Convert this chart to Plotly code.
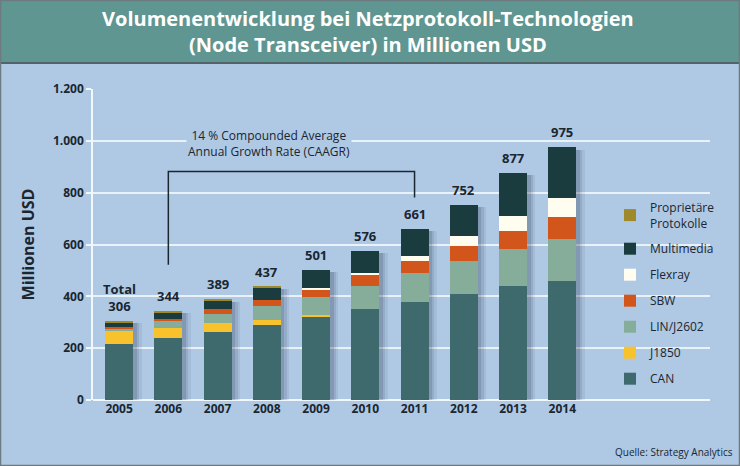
import numpy as np
import plotly.graph_objects as go

years = ["2005", "2006", "2007", "2008", "2009", "2010", "2011", "2012", "2013", "2014"]
totals = [306, 344, 389, 437, 501, 576, 661, 752, 877, 975]

can = [215, 240, 264, 290, 320, 352, 380, 410, 438, 460]
j1850 = [50, 38, 32, 20, 8, 0, 0, 0, 0, 0]
lin = [10, 25, 37, 51, 71, 89, 110, 125, 145, 162]
sbw = [8, 9, 17, 25, 28, 40, 47, 60, 68, 83]
flexray = [0, 0, 0, 0, 4, 9, 20, 36, 58, 75]
multimedia = [17, 27, 35, 49, 70, 86, 104, 121, 168, 195]
proprietaer = [6, 5, 4, 2, 0, 0, 0, 0, 0, 0]

series = [
    ("CAN", can, "#3e6a6e"),
    ("J1850", j1850, "#f7c22c"),
    ("LIN/J2602", lin, "#86ad9a"),
    ("SBW", sbw, "#d2561b"),
    ("Flexray", flexray, "#fffcf0"),
    ("Multimedia", multimedia, "#1b3c3e"),
    ("Proprietäre<br>Protokolle", proprietaer, "#9e8a2a"),
]

y_ticks = [0, 200, 400, 600, 800, 1000, 1200]
y_tick_labels = ["0", "200", "400", "600", "800", "1.000", "1.200"]

W, H = 740, 466
ML, MR, MT, MB = 93, 30, 89, 66
PW, PH = W - ML - MR, H - MT - MB

BG = "#afc9e4"
DARK = "#1a2630"
FONT = "Open Sans"

xpos = np.arange(len(years))
bar_w = 0.57

fig = go.Figure()

# soft drop shadows derived from totals
for dx, alpha in [(0.17, 0.07), (0.12, 0.1), (0.07, 0.14)]:
    fig.add_trace(go.Bar(
        x=xpos, y=np.array(totals) - 5, base=-4,
        width=bar_w, offset=-bar_w / 2 + dx,
        marker=dict(color=f"rgba(20,35,60,{alpha})", line=dict(width=0)),
        showlegend=False, hoverinfo="skip"))

base = np.zeros(len(years))
for i, (name, vals, col) in enumerate(series):
    v = np.array(vals, dtype=float)
    fig.add_trace(go.Bar(
        x=xpos, y=v, base=base.copy(), name=name,
        width=bar_w, marker=dict(color=col, line=dict(width=0)),
        legendgroup=f"g{i}", legendrank=1000 - 10 * i))
    base += v

# total labels
for i, t in enumerate(totals):
    txt = f"Total<br>{t}" if i == 0 else f"{t}"
    fig.add_annotation(x=xpos[i], y=t, text=txt, showarrow=False,
                       yanchor="bottom", yshift=4,
                       font=dict(family=FONT, size=13, color=DARK, weight="bold"))

# CAAGR bracket between 2006 and 2011
i0, i1 = years.index("2006"), years.index("2011")
bracket_top = 882
fig.add_shape(type="path", xref="x", yref="y",
              path=f"M {xpos[i0]},{522} L {xpos[i0]},{bracket_top} L {xpos[i1]},{bracket_top} L {xpos[i1]},{781}",
              line=dict(color=DARK, width=1.5))
fig.add_annotation(x=(xpos[1] + xpos[5]) / 2 + 0.05, y=990, text="14 % Compounded Average<br>Annual Growth Rate (CAAGR)",
                   showarrow=False, bgcolor=BG, yanchor="middle",
                   font=dict(family=FONT, size=12, color=DARK))

# header band
px = lambda p: (p - ML) / PW
py = lambda p: (H - MB - p) / PH
fig.add_shape(type="rect", xref="paper", yref="paper", layer="below",
              x0=px(0), x1=px(W), y0=py(62), y1=py(0),
              fillcolor="#5f9691", line=dict(width=0))
fig.add_shape(type="line", xref="paper", yref="paper",
              x0=px(0), x1=px(W), y0=py(63), y1=py(63),
              line=dict(color="#52636a", width=2))
fig.add_shape(type="rect", xref="paper", yref="paper",
              x0=px(0.5), x1=px(W - 0.5), y0=py(H - 0.5), y1=py(0.5),
              line=dict(color="#6b7b80", width=1.5))

fig.add_annotation(xref="paper", yref="paper", x=px(W / 2 - 2), y=py(31),
                   text="Volumenentwicklung bei Netzprotokoll-Technologien<br>(Node Transceiver) in Millionen USD",
                   showarrow=False, yanchor="middle",
                   font=dict(family="Open Sans", size=20, color="white", weight="bold"))

fig.add_annotation(xref="paper", yref="paper", x=px(735), y=py(452),
                   text="Quelle: Strategy Analytics", showarrow=False,
                   xanchor="right", yanchor="middle",
                   font=dict(family=FONT, size=10, color=DARK))

fig.update_layout(
    width=W, height=H,
    margin=dict(l=ML, r=MR, t=MT, b=MB, pad=0),
    paper_bgcolor=BG, plot_bgcolor=BG,
    barmode="overlay", bargap=0,
    showlegend=True,
    legend=dict(x=px(610), y=py(193), xanchor="left", yanchor="top",
                traceorder="grouped", tracegroupgap=7,
                bgcolor="rgba(0,0,0,0)", itemwidth=30,
                font=dict(family=FONT, size=12, color=DARK)),
    xaxis=dict(range=[-0.53, 12.0], tickvals=xpos, ticktext=years,
               showgrid=False, zeroline=False, showline=False,
               ticks="", tickfont=dict(family=FONT, size=12, color=DARK, weight="bold")),
    yaxis=dict(range=[0, 1200], tickvals=y_ticks, ticktext=y_tick_labels,
               showgrid=True, gridcolor="#e9f1f9", gridwidth=1.5,
               zeroline=True, zerolinecolor="#f2f7fc", zerolinewidth=1.5,
               showline=True, linecolor="#f2f7fc", linewidth=1.5,
               ticks="outside", ticklen=5, tickcolor="#f2f7fc", tickwidth=1.5,
               tickfont=dict(family=FONT, size=12, color=DARK, weight="bold"),
               title=dict(text="Millionen USD", standoff=14,
                          font=dict(family=FONT, size=16, color=DARK, weight="bold"))),
)

fig.write_html("out.html", config={"displayModeBar": False},
               post_script="document.body.style.margin='0px';")
